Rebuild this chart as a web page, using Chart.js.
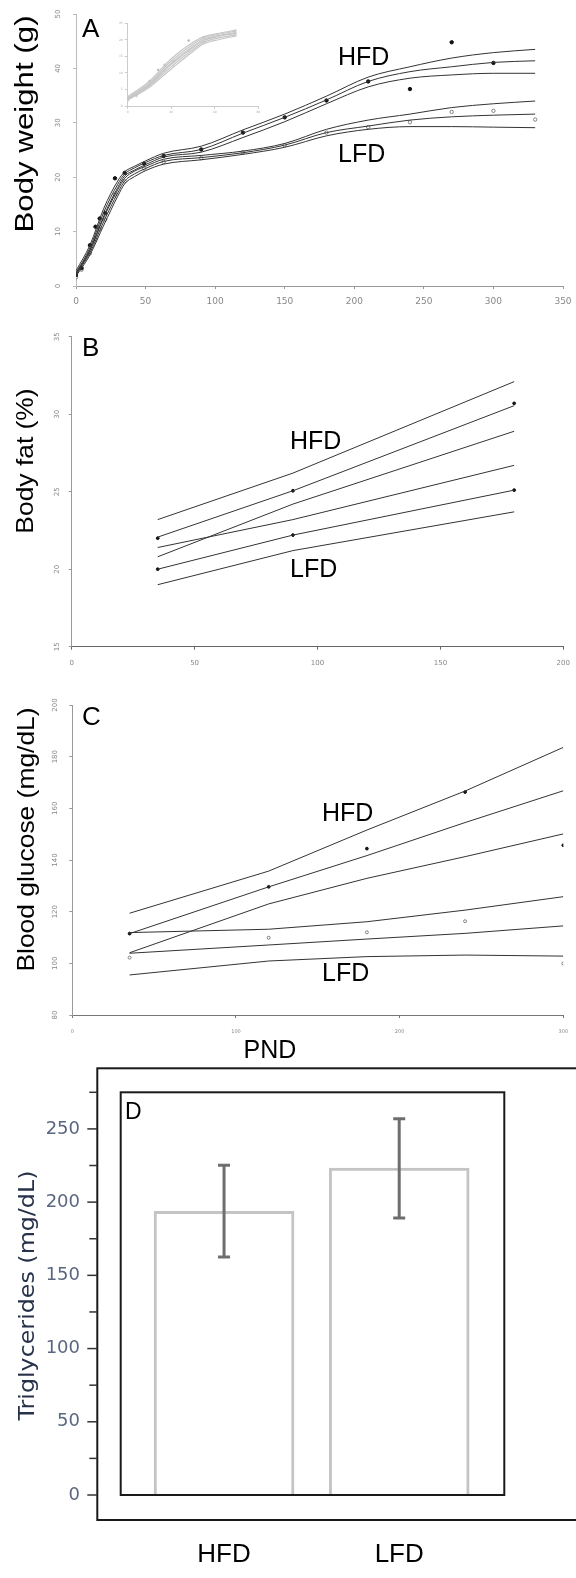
<!DOCTYPE html>
<html><head><meta charset="utf-8">
<script src="https://cdn.jsdelivr.net/npm/chart.js@4"></script>
<style>
html,body{margin:0;padding:0;background:#fff;}
body{width:576px;height:1578px;position:relative;overflow:hidden;}
.wrap{position:absolute;left:0;width:576px;}
canvas{display:block;}
</style></head><body>
<div class="wrap" style="top:0;height:320px"><canvas id="cA"></canvas></div>
<div class="wrap" style="left:100px;top:10px;width:170px;height:110px"><canvas id="cI"></canvas></div>
<div class="wrap" style="top:320px;height:360px"><canvas id="cB"></canvas></div>
<div class="wrap" style="top:680px;height:385px"><canvas id="cC"></canvas></div>
<div class="wrap" style="top:1065px;height:513px"><canvas id="cD"></canvas></div>
<script>
// ---------- Panel A: body weight (g) vs PND ----------
const bwDays     = [0, 10, 20, 30, 35, 42, 50, 63, 90, 120, 150, 180, 210, 240, 270, 300, 330];
const bwHfdUpper = [2.8, 7.5, 14.3, 19.3, 21.0, 22.0, 23.0, 24.4, 25.7, 28.7, 31.6, 34.9, 38.4, 40.3, 41.9, 42.9, 43.5];
const bwHfdFit   = [2.4, 7.0, 13.6, 18.7, 20.6, 21.7, 22.7, 24.0, 25.1, 28.1, 31.0, 34.2, 37.6, 39.4, 40.3, 41.1, 41.4];
const bwHfdLower = [2.0, 6.6, 12.9, 18.1, 20.2, 21.3, 22.3, 23.7, 24.6, 27.3, 30.2, 33.5, 36.6, 38.2, 38.8, 39.1, 39.1];
const bwLfdUpper = [2.4, 6.5, 12.6, 17.7, 19.8, 21.1, 22.0, 23.3, 24.0, 24.8, 26.2, 28.8, 30.5, 31.6, 32.8, 33.5, 34.0];
const bwLfdFit   = [2.1, 6.1, 11.9, 17.1, 19.3, 20.6, 21.6, 22.9, 23.6, 24.5, 25.9, 28.2, 29.4, 30.5, 31.1, 31.4, 31.6];
const bwLfdLower = [1.8, 5.7, 11.2, 16.5, 18.8, 20.1, 21.2, 22.4, 23.2, 24.2, 25.5, 27.6, 28.8, 29.3, 29.3, 29.2, 29.1];
const bwHfdPtDays = [0, 4, 10, 14, 17, 21, 28, 35, 49, 63, 90, 120, 150, 180, 210, 240, 270, 300];
const bwHfdPts    = [2.0, 3.3, 7.5, 10.9, 12.4, 13.4, 19.8, 20.8, 22.5, 23.9, 25.1, 28.2, 31.0, 34.1, 37.6, 36.2, 44.8, 41.0];
const bwLfdPtDays = [0, 4, 10, 14, 17, 21, 28, 35, 49, 63, 90, 120, 150, 180, 210, 240, 270, 300, 330];
const bwLfdPts    = [1.6, 3.0, 6.0, 8.6, 10.5, 12.2, 16.8, 19.2, 21.6, 22.8, 23.5, 24.6, 25.9, 28.2, 29.2, 30.1, 32.0, 32.2, 30.6];
const aXTicks = [0, 50, 100, 150, 200, 250, 300, 350];
const aYTicks = [0, 10, 20, 30, 40, 50];
const insetXTicks = [0, 20, 40, 60];
const insetYTicks = [0, 5, 10, 15, 20, 25];
const insetMaxDay = 50;

// ---------- Panel B: body fat (%) ----------
const bfDays     = [35, 90, 180];
const bfHfdUpper = [23.2, 26.2, 32.1];
const bfHfdFit   = [22.07, 25.06, 30.55];
const bfHfdLower = [20.8, 24.2, 28.9];
const bfLfdUpper = [21.4, 23.2, 26.7];
const bfLfdFit   = [20.0, 22.2, 25.1];
const bfLfdLower = [19.0, 21.2, 23.7];
const bfHfdPts   = [22.0, 25.06, 30.7];
const bfLfdPts   = [20.0, 22.2, 25.1];
const bXTicks = [0, 50, 100, 150, 200];
const bYTicks = [15, 20, 25, 30, 35];

// ---------- Panel C: blood glucose (mg/dL) ----------
const bgDays     = [35, 120, 180, 240, 300];
const bgHfdUpper = [119.4, 135.7, 151.6, 166.7, 183.6];
const bgHfdFit   = [111.5, 129.6, 141.7, 154.5, 166.8];
const bgHfdLower = [104.1, 123.0, 132.9, 141.3, 150.1];
const bgLfdUpper = [111.9, 113.2, 116.1, 120.6, 125.8];
const bgLfdFit   = [103.9, 107.1, 109.4, 111.6, 114.5];
const bgLfdLower = [95.5, 100.9, 102.6, 103.2, 102.8];
const bgHfdPts   = [111.5, 129.6, 144.4, 166.3, 145.7];
const bgLfdPts   = [102.2, 109.9, 112.0, 116.3, 99.9];
const cXTicks = [0, 100, 200, 300];
const cYTicks = [80, 100, 120, 140, 160, 180, 200];

// ---------- Panel D: triglycerides ----------
const triCats = ['HFD', 'LFD'];
const triMean = [193.8, 223.3];
const triLow  = [162.6, 189.2];
const triHigh = [225.2, 257.0];
const triTicks = [0, 50, 100, 150, 200, 250];
const triMinorTicks = [0, 25, 50, 75, 100, 125, 150, 175, 200, 225, 250, 275];

// ---------- helpers ----------
const LINE = '#333';
const SANS = '"Liberation Sans", Arial, sans-serif';
const TICKF = '"DejaVu Sans", sans-serif';
function pts(xs, ys){ return xs.map((x,i)=>({x:x, y:ys[i]})); }
function lineDS(xs, ys, extra){ return Object.assign({data: pts(xs, ys), showLine:true, pointRadius:0, pointHoverRadius:0, borderColor:LINE, borderWidth:1, fill:false}, extra||{}); }
function dotDS(xs, ys, filled, extra){ return Object.assign({data: pts(xs, ys), showLine:false, pointRadius:1.7, pointHoverRadius:0,
  pointBackgroundColor: filled ? '#111' : '#fff', pointBorderColor: filled ? '#111' : '#666', pointBorderWidth: filled ? 1 : 0.8}, extra||{}); }
// o.L = chart-area left inside canvas, o.B = space below chart area
function axes(o){
  return {
    x: {type:'linear', min:o.xmin, max:o.xmax,
      afterBuildTicks: s => { s.ticks = o.xt.map(v=>({value:v})); },
      afterFit: s => { s.height = o.B; s.paddingLeft = 0; s.paddingRight = 0; },
      grid:{display:true, drawOnChartArea:false, drawTicks:true, tickLength:3, color:o.xc},
      border:{display:true, color:o.xc, width:1},
      ticks:{display:o.xfs>0, font:{family:TICKF, size:o.xfs||1}, color:o.tc||'#888', padding:o.xpad, maxRotation:0, minRotation:0, autoSkip:false}},
    y: {type:'linear', min:o.ymin, max:o.ymax,
      afterBuildTicks: s => { s.ticks = o.yt.map(v=>({value:v})); },
      afterFit: s => { s.width = o.L; s.paddingTop = 0; s.paddingBottom = 0; },
      grid:{display:true, drawOnChartArea:false, drawTicks:true, tickLength:3, color:o.yc},
      border:{display:true, color:o.yc, width:1},
      ticks:{display:!!o.yShow, font:{family:TICKF, size:o.yfs||3}, color:o.tc||'#888', padding:2, autoSkip:false}}
  };
}
function baseOpts(pad, sc){
  return {responsive:true, maintainAspectRatio:false, animation:false, devicePixelRatio:1,
    layout:{padding:pad}, plugins:{legend:{display:false}, tooltip:{enabled:false}}, events:[], scales:sc};
}
function rotTicks(chart, x, size){
  const s = chart.scales.y, ctx = chart.ctx;
  ctx.save(); ctx.fillStyle = '#888'; ctx.font = size + 'px ' + TICKF;
  ctx.textAlign = 'center'; ctx.textBaseline = 'middle';
  s.ticks.forEach(t => { const y = s.getPixelForValue(t.value); ctx.save(); ctx.translate(x, y); ctx.rotate(-Math.PI/2); ctx.fillText(String(t.value), 0, 0); ctx.restore(); });
  ctx.restore();
}
function rotTitle(ctx, text, xb, yc, size, k, font, color){
  ctx.save(); ctx.translate(xb, yc); ctx.rotate(-Math.PI/2); ctx.scale(k, 1);
  ctx.fillStyle = color || '#000'; ctx.font = size + 'px ' + (font || SANS);
  ctx.textAlign = 'center'; ctx.textBaseline = 'alphabetic'; ctx.fillText(text, 0, 0); ctx.restore();
}
function txt(ctx, text, x, y, size, align){
  ctx.save(); ctx.fillStyle = '#000'; ctx.font = size + 'px ' + SANS; ctx.textAlign = align || 'left'; ctx.textBaseline = 'alphabetic';
  ctx.fillText(text, x, y); ctx.restore();
}

// ---------- Chart A ----------
const mono = {cubicInterpolationMode:'monotone'};
new Chart(document.getElementById('cA'), {
  type:'scatter',
  data:{datasets:[
    lineDS(bwDays, bwHfdUpper, mono), lineDS(bwDays, bwHfdFit, mono), lineDS(bwDays, bwHfdLower, mono),
    lineDS(bwDays, bwLfdUpper, mono), lineDS(bwDays, bwLfdFit, mono), lineDS(bwDays, bwLfdLower, mono),
    dotDS(bwHfdPtDays, bwHfdPts, true), dotDS(bwLfdPtDays, bwLfdPts, false)
  ]},
  options: baseOpts({left:0, right:13, top:14, bottom:0},
    axes({L:76, B:34, xmin:0, xmax:350, xt:aXTicks, ymin:0, ymax:50, yt:aYTicks, xc:'#999', yc:'#bbb', xfs:9, xpad:7})),
  plugins:[{id:'decoA', afterDraw(chart){
    const ctx = chart.ctx;
    rotTicks(chart, 58, 7);
    rotTitle(ctx, 'Body weight (g)', 33, 124, 25, 1.25);
    txt(ctx, 'A', 82, 37, 26);
    txt(ctx, 'HFD', 338, 65, 25);
    txt(ctx, 'LFD', 338, 162, 25);
  }}]
});

// ---------- Inset of A (early growth) ----------
function early(xs, ys){ const ox=[], oy=[]; xs.forEach((x,i)=>{ if (x <= insetMaxDay){ ox.push(x); oy.push(ys[i]); } }); return [ox, oy]; }
const insetLine = {cubicInterpolationMode:'monotone', borderColor:'#c6c6c6', borderWidth:1.2};
const insetSets = [bwHfdUpper, bwHfdFit, bwHfdLower, bwLfdUpper, bwLfdFit, bwLfdLower].map(a => { const e = early(bwDays, a); return lineDS(e[0], e[1], insetLine); });
const eH = early(bwHfdPtDays, bwHfdPts), eL = early(bwLfdPtDays, bwLfdPts);
insetSets.push(dotDS(eH[0], eH[1], true, {pointRadius:0.9, pointBackgroundColor:'#bbb', pointBorderColor:'#bbb'}));
insetSets.push(dotDS(eL[0], eL[1], false, {pointRadius:0.9, pointBorderColor:'#ccc'}));
new Chart(document.getElementById('cI'), {
  type:'scatter',
  data:{datasets: insetSets},
  options: baseOpts({left:0, right:11.7, top:13.3, bottom:0},
    axes({L:27.7, B:14, xmin:0, xmax:60, xt:insetXTicks, ymin:0, ymax:25, yt:insetYTicks, xc:'#ccc', yc:'#ccc', xfs:3, xpad:1, yShow:true, yfs:3, tc:'#aaa'}))
});

// ---------- Chart B ----------
new Chart(document.getElementById('cB'), {
  type:'scatter',
  data:{datasets:[
    lineDS(bfDays, bfHfdUpper), lineDS(bfDays, bfHfdFit), lineDS(bfDays, bfHfdLower),
    lineDS(bfDays, bfLfdUpper), lineDS(bfDays, bfLfdFit), lineDS(bfDays, bfLfdLower),
    dotDS(bfDays, bfHfdPts, true, {pointRadius:1.4}), dotDS(bfDays, bfLfdPts, true, {pointRadius:1.4})
  ]},
  options: baseOpts({left:0, right:12.7, top:16.7, bottom:0},
    axes({L:71.7, B:33.3, xmin:0, xmax:200, xt:bXTicks, ymin:15, ymax:35, yt:bYTicks, xc:'#666', yc:'#999', xfs:7, xpad:9})),
  plugins:[{id:'decoB', afterDraw(chart){
    const ctx = chart.ctx;
    rotTicks(chart, 57, 7);
    rotTitle(ctx, 'Body fat (%)', 33, 141, 24, 1.1);
    txt(ctx, 'B', 82, 36, 26);
    txt(ctx, 'HFD', 290, 129, 25);
    txt(ctx, 'LFD', 290, 257, 25);
  }}]
});

// ---------- Chart C ----------
new Chart(document.getElementById('cC'), {
  type:'scatter',
  data:{datasets:[
    lineDS(bgDays, bgHfdUpper), lineDS(bgDays, bgHfdFit), lineDS(bgDays, bgHfdLower),
    lineDS(bgDays, bgLfdUpper), lineDS(bgDays, bgLfdFit), lineDS(bgDays, bgLfdLower),
    dotDS(bgDays, bgHfdPts, true, {pointRadius:1.4}), dotDS(bgDays, bgLfdPts, false, {pointRadius:1.5})
  ]},
  options: baseOpts({left:0, right:12.7, top:25, bottom:0},
    axes({L:72.3, B:50, xmin:0, xmax:300, xt:cXTicks, ymin:80, ymax:200, yt:cYTicks, xc:'#777', yc:'#999', xfs:5, xpad:11})),
  plugins:[{id:'decoC', afterDraw(chart){
    const ctx = chart.ctx;
    rotTicks(chart, 55, 7);
    rotTitle(ctx, 'Blood glucose (mg/dL)', 34, 159.5, 24, 1.1);
    txt(ctx, 'C', 82, 45, 26);
    txt(ctx, 'HFD', 322, 141, 25);
    txt(ctx, 'LFD', 322, 301, 25);
    txt(ctx, 'PND', 270, 378, 25, 'center');
  }}]
});

// ---------- Chart D ----------
new Chart(document.getElementById('cD'), {
  type:'bar',
  data:{datasets:[{data: triMean.map((v,i)=>({x:i, y:v})), barThickness:140, backgroundColor:'#fff', borderColor:'#c4c4c4', borderWidth:3, borderSkipped:'bottom'}]},
  options: baseOpts({left:0, right:71.7, top:27.3, bottom:0}, {
    x:{type:'linear', min:-0.59, max:1.6, offset:false,
      afterBuildTicks: s => { s.ticks = triCats.map((c,i)=>({value:i})); },
      afterFit: s => { s.height = 83; s.paddingLeft = 0; s.paddingRight = 0; },
      grid:{display:false}, border:{display:false},
      ticks:{font:{family:SANS, size:26}, color:'#000', padding:36, maxRotation:0, autoSkip:false, callback: v => triCats[v]}},
    y:{type:'linear', min:0, max:275,
      afterBuildTicks: s => { s.ticks = triTicks.map(v=>({value:v})); },
      afterFit: s => { s.width = 120.7; s.paddingTop = 0; s.paddingBottom = 0; },
      grid:{display:false, drawTicks:false}, border:{display:false},
      ticks:{font:{family:TICKF, size:18}, color:'#5b6780', padding:40.7, autoSkip:false}}
  }),
  plugins:[{id:'decoD', afterDatasetsDraw(chart){
    const ctx = chart.ctx, xs = chart.scales.x, ys = chart.scales.y;
    ctx.save(); ctx.strokeStyle = '#6e6e6e'; ctx.lineWidth = 3; ctx.lineCap = 'butt';
    triMean.forEach((m,i) => {
      const x = xs.getPixelForValue(i), y1 = ys.getPixelForValue(triLow[i]), y2 = ys.getPixelForValue(triHigh[i]);
      ctx.beginPath(); ctx.moveTo(x, y1); ctx.lineTo(x, y2);
      ctx.moveTo(x-6, y1); ctx.lineTo(x+6, y1); ctx.moveTo(x-6, y2); ctx.lineTo(x+6, y2); ctx.stroke();
    });
    ctx.restore();
  }, afterDraw(chart){
    const ctx = chart.ctx, a = chart.chartArea, ys = chart.scales.y;
    const outerL = a.left - 23.4, outerT = a.top - 24, outerB = a.bottom + 25;
    ctx.save(); ctx.strokeStyle = '#1a1a1a'; ctx.lineWidth = 2;
    ctx.strokeRect(a.left, a.top, a.right - a.left, a.bottom - a.top);
    ctx.strokeRect(outerL, outerT, chart.width - outerL + 2, outerB - outerT);
    ctx.lineWidth = 1.5; ctx.strokeStyle = '#333';
    triMinorTicks.forEach(v => { const y = ys.getPixelForValue(v); ctx.beginPath(); ctx.moveTo(outerL - (v % 50 === 0 ? 10 : 8), y); ctx.lineTo(outerL, y); ctx.stroke(); });
    ctx.restore();
    rotTitle(ctx, 'Triglycerides (mg/dL)', 34, 230.5, 22, 1.08, '"DejaVu Sans", sans-serif', '#27324a');
    txt(ctx, 'D', 125, 54, 23);
  }}]
});
</script>
</body></html>
